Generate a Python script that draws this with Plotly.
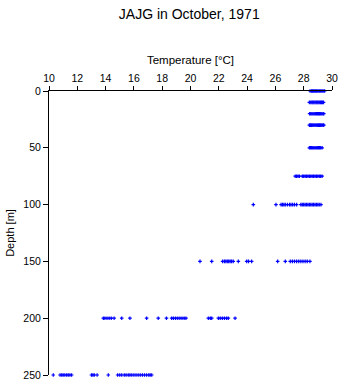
import plotly.graph_objects as go

# Standard depth levels [m]
depth_levels = [0, 10, 20, 30, 50, 75, 100, 150, 200, 250]

temps_0 = [28.45, 28.55, 28.62, 28.7, 28.78, 28.85, 28.92, 29.0, 29.08, 29.15, 29.22, 29.3, 29.38, 29.48]
temps_10 = [28.4, 28.5, 28.58, 28.65, 28.72, 28.8, 28.88, 28.95, 29.02, 29.1, 29.18, 29.25, 29.32, 29.4]
temps_20 = [28.42, 28.5, 28.58, 28.66, 28.74, 28.82, 28.9, 28.98, 29.05, 29.12, 29.2, 29.28, 29.36, 29.42]
temps_30 = [28.4, 28.48, 28.56, 28.64, 28.72, 28.8, 28.88, 28.96, 29.04, 29.12, 29.2, 29.28, 29.36, 29.42]
temps_50 = [28.4, 28.48, 28.56, 28.64, 28.72, 28.8, 28.88, 28.96, 29.04, 29.12, 29.2, 29.3]
temps_75 = [27.4, 27.5, 27.6, 27.7, 27.9, 28.0, 28.1, 28.2, 28.3, 28.4, 28.5, 28.6, 28.7,
            28.8, 28.9, 29.0, 29.1, 29.2, 29.3]
temps_100 = [24.44, 26.04, 26.4, 26.5, 26.6, 26.7, 26.85, 27.0, 27.1, 27.22, 27.35, 27.5,
             27.8, 27.9, 28.0, 28.1, 28.2, 28.3, 28.4, 28.5, 28.6, 28.7, 28.8, 28.9,
             29.0, 29.1, 29.22]
temps_150 = [20.67, 21.5, 22.27, 22.4, 22.5, 22.6, 22.7, 22.8, 22.9, 23.02, 23.38, 23.97,
             24.1, 24.32, 26.16, 26.7, 27.05, 27.2, 27.35, 27.5, 27.65, 27.8, 27.95,
             28.1, 28.25, 28.44]
temps_200 = [13.84, 13.95, 14.1, 14.25, 14.4, 14.6, 15.14, 15.72, 16.9, 17.72, 18.3,
             18.67, 18.8, 18.95, 19.1, 19.25, 19.4, 19.55, 19.68, 21.26, 21.4, 21.5,
             21.97, 22.1, 22.25, 22.4, 22.55, 22.67, 23.15]
temps_250 = [10.3, 10.78, 10.9, 11.0, 11.12, 11.25, 11.36, 11.48, 11.6, 13.0, 13.1, 13.2,
             13.4, 14.19, 14.85, 15.0, 15.14, 15.32, 15.45, 15.6, 15.72, 15.85, 16.0,
             16.15, 16.3, 16.45, 16.6, 16.75, 16.9, 17.05, 17.15, 17.26]

temps_by_level = [temps_0, temps_10, temps_20, temps_30, temps_50, temps_75,
                  temps_100, temps_150, temps_200, temps_250]

x_vals, y_vals = [], []
for d, ts in zip(depth_levels, temps_by_level):
    x_vals += ts
    y_vals += [d] * len(ts)

x_ticks = [10, 12, 14, 16, 18, 20, 22, 24, 26, 28, 30]
y_ticks = [0, 50, 100, 150, 200, 250]

FONT = "Liberation Sans, Arial, sans-serif"

fig = go.Figure(go.Scatter(
    x=x_vals, y=y_vals, mode="markers", cliponaxis=False,
    marker=dict(symbol="cross", size=3, color="#0000ff", line=dict(width=0)),
    showlegend=False, hoverinfo="x+y",
))

fig.update_layout(
    width=341, height=384,
    margin=dict(l=49, r=9, t=91, b=9),
    paper_bgcolor="white", plot_bgcolor="white",
    font=dict(family=FONT, color="black", size=10),
    title=dict(text="JAJG in October, 1971", x=0.555, xanchor="center",
               y=0.975, yanchor="top", font=dict(size=14, family=FONT, color="black")),
)

fig.update_xaxes(
    side="top", range=[10, 30], tickvals=x_ticks, ticktext=[str(t) for t in x_ticks],
    showline=True, linecolor="black", linewidth=1, ticks="outside", ticklen=4,
    tickcolor="black", showgrid=False, zeroline=False, automargin=False,
    title=dict(text="Temperature [°C]", font=dict(size=11.5, family=FONT), standoff=4),
    tickfont=dict(size=10.5, family=FONT),
)
fig.update_yaxes(
    range=[250, 0], tickvals=y_ticks, ticktext=[str(t) for t in y_ticks],
    showline=True, linecolor="black", linewidth=1, ticks="outside", ticklen=5,
    tickcolor="black", showgrid=False, zeroline=False, automargin=False,
    title=dict(text="Depth [m]", font=dict(size=11, family=FONT), standoff=6),
    tickfont=dict(size=10.5, family=FONT),
)

fig.write_html("out.html")
